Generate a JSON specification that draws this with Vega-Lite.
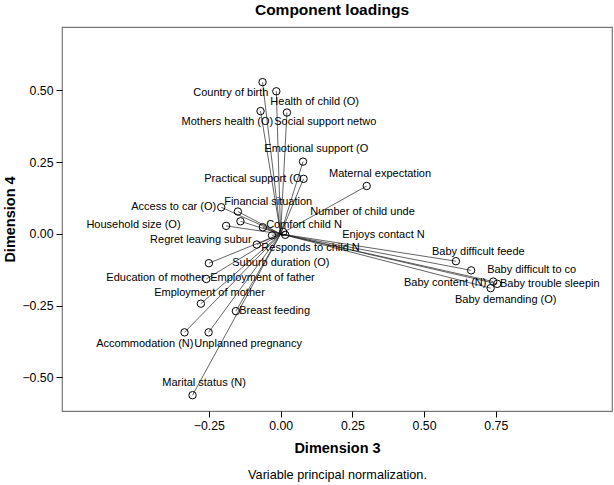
{
  "$schema": "https://vega.github.io/schema/vega-lite/v6.json",
  "width": 550,
  "height": 384,
  "autosize": "none",
  "padding": {"left": 62, "top": 27, "right": 2, "bottom": 74},
  "background": "white",
  "title": {"text": "Component loadings", "fontSize": 15.5, "font": "Liberation Sans", "fontWeight": "bold", "color": "#000", "offset": 9, "anchor": "middle", "dx": -5},
  "config": {
    "font": "Liberation Sans",
    "view": {"stroke": "#777", "strokeWidth": 1.2},
    "text": {"font": "Liberation Sans", "fontSize": 11, "align": "left", "baseline": "middle", "color": "#000"},
    "axis": {"labelFont": "Liberation Sans", "labelFontSize": 12.3, "labelColor": "#000", "tickColor": "#000", "tickSize": 6, "domain": false, "grid": false, "titleFont": "Liberation Sans", "titleFontSize": 14.5, "titleFontWeight": "bold", "titleColor": "#000"}
  },
  "data": {"values": [
    {"label": "Country of birth", "x": -0.063, "y": 0.529},
    {"label": "Health of child (O)", "x": -0.015, "y": 0.497},
    {"label": "Mothers health (O)", "x": -0.070, "y": 0.428},
    {"label": "Social support netwo", "x": 0.022, "y": 0.423},
    {"label": "Emotional support (O", "x": 0.078, "y": 0.252},
    {"label": "Practical support (O", "x": 0.080, "y": 0.192},
    {"label": "Maternal expectation", "x": 0.300, "y": 0.167},
    {"label": "Access to car (O)", "x": -0.207, "y": 0.093},
    {"label": "Financial situation", "x": -0.149, "y": 0.078},
    {"label": "Household size (O)", "x": -0.190, "y": 0.028},
    {"label": "Comfort child N", "x": -0.062, "y": 0.023},
    {"label": "Employment of father", "x": -0.140, "y": 0.044},
    {"label": "Regret leaving subur", "x": -0.083, "y": -0.037},
    {"label": "Responds to child N", "x": -0.030, "y": -0.005},
    {"label": "Number of child unde", "x": 0.009, "y": 0.007},
    {"label": "Enjoys contact N", "x": 0.016, "y": -0.003},
    {"label": "Suburb duration (O)", "x": -0.250, "y": -0.102},
    {"label": "Education of mother", "x": -0.259, "y": -0.157},
    {"label": "Employment of mother", "x": -0.278, "y": -0.243},
    {"label": "Breast feeding", "x": -0.156, "y": -0.269},
    {"label": "Accommodation (N)", "x": -0.335, "y": -0.343},
    {"label": "Unplanned pregnancy", "x": -0.251, "y": -0.343},
    {"label": "Marital status (N)", "x": -0.307, "y": -0.562},
    {"label": "Baby difficult feede", "x": 0.611, "y": -0.095},
    {"label": "Baby difficult to co", "x": 0.664, "y": -0.127},
    {"label": "Baby content (N)", "x": 0.741, "y": -0.166},
    {"label": "Baby trouble sleepin", "x": 0.755, "y": -0.174},
    {"label": "Baby demanding (O)", "x": 0.732, "y": -0.189}
  ]},
  "resolve": {"axis": {"x": "independent"}},
  "layer": [
    {
      "mark": {"type": "rule", "color": "#222", "strokeWidth": 0.7},
      "encoding": {
        "x": {"field": "x", "type": "quantitative", "scale": {"domain": [-0.762, 1.155], "nice": false, "zero": false},
              "axis": {"title": "Dimension 3", "orient": "bottom", "values": [-0.25, 0, 0.25, 0.5, 0.75], "format": ".2f", "labelPadding": 2, "titlePadding": 10}},
        "y": {"field": "y", "type": "quantitative", "scale": {"domain": [-0.617, 0.721], "nice": false, "zero": false},
              "axis": {"title": "Dimension 4", "values": [-0.5, -0.25, 0, 0.25, 0.5], "format": ".2f", "labelPadding": 3, "titlePadding": 4}},
        "x2": {"datum": 0},
        "y2": {"datum": 0}
      }
    },
    {
      "mark": {"type": "point", "shape": "circle", "filled": false, "color": "#000", "size": 55, "strokeWidth": 1, "opacity": 1},
      "encoding": {
        "x": {"field": "x", "type": "quantitative", "axis": null},
        "y": {"field": "y", "type": "quantitative"}
      }
    },
    {
      "encoding": {
        "x": {"field": "x", "type": "quantitative", "axis": null},
        "y": {"field": "y", "type": "quantitative"},
        "text": {"field": "label"}
      },
      "layer": [
        {"transform": [{"filter": {"field": "label", "equal": "Country of birth"}}], "mark": {"type": "text", "dx": -69.3, "dy": 10.7}},
        {"transform": [{"filter": {"field": "label", "equal": "Health of child (O)"}}], "mark": {"type": "text", "dx": -6, "dy": 10.5}},
        {"transform": [{"filter": {"field": "label", "equal": "Mothers health (O)"}}], "mark": {"type": "text", "dx": -79, "dy": 10.7}},
        {"transform": [{"filter": {"field": "label", "equal": "Social support netwo"}}], "mark": {"type": "text", "dx": -12.7, "dy": 9.3}},
        {"transform": [{"filter": {"field": "label", "equal": "Emotional support (O"}}], "mark": {"type": "text", "dx": -38.7, "dy": -12.7}},
        {"transform": [{"filter": {"field": "label", "equal": "Practical support (O"}}], "mark": {"type": "text", "dx": -99.3, "dy": 0}},
        {"transform": [{"filter": {"field": "label", "equal": "Maternal expectation"}}], "mark": {"type": "text", "dx": -37.7, "dy": -12}},
        {"transform": [{"filter": {"field": "label", "equal": "Access to car (O)"}}], "mark": {"type": "text", "dx": -90, "dy": 0}},
        {"transform": [{"filter": {"field": "label", "equal": "Financial situation"}}], "mark": {"type": "text", "dx": -13.7, "dy": -9.7}},
        {"transform": [{"filter": {"field": "label", "equal": "Household size (O)"}}], "mark": {"type": "text", "dx": -139.7, "dy": -1}},
        {"transform": [{"filter": {"field": "label", "equal": "Comfort child N"}}], "mark": {"type": "text", "dx": 3.3, "dy": -2.3}},
        {"transform": [{"filter": {"field": "label", "equal": "Employment of father"}}], "mark": {"type": "text", "dx": -30.3, "dy": 56.7}},
        {"transform": [{"filter": {"field": "label", "equal": "Regret leaving subur"}}], "mark": {"type": "text", "dx": -106.7, "dy": -4.5}},
        {"transform": [{"filter": {"field": "label", "equal": "Responds to child N"}}], "mark": {"type": "text", "dx": -10.7, "dy": 12.5}},
        {"transform": [{"filter": {"field": "label", "equal": "Number of child unde"}}], "mark": {"type": "text", "dx": 27, "dy": -20}},
        {"transform": [{"filter": {"field": "label", "equal": "Enjoys contact N"}}], "mark": {"type": "text", "dx": 57, "dy": 0}},
        {"transform": [{"filter": {"field": "label", "equal": "Suburb duration (O)"}}], "mark": {"type": "text", "dx": 23.3, "dy": 0}},
        {"transform": [{"filter": {"field": "label", "equal": "Education of mother"}}], "mark": {"type": "text", "dx": -100, "dy": -1}},
        {"transform": [{"filter": {"field": "label", "equal": "Employment of mother"}}], "mark": {"type": "text", "dx": -46.7, "dy": -10.8}},
        {"transform": [{"filter": {"field": "label", "equal": "Breast feeding"}}], "mark": {"type": "text", "dx": 3.3, "dy": 0}},
        {"transform": [{"filter": {"field": "label", "equal": "Accommodation (N)"}}], "mark": {"type": "text", "dx": -88.3, "dy": 11.7}},
        {"transform": [{"filter": {"field": "label", "equal": "Unplanned pregnancy"}}], "mark": {"type": "text", "dx": -14.3, "dy": 11.7}},
        {"transform": [{"filter": {"field": "label", "equal": "Marital status (N)"}}], "mark": {"type": "text", "dx": -30.3, "dy": -12.3}},
        {"transform": [{"filter": {"field": "label", "equal": "Baby difficult feede"}}], "mark": {"type": "text", "dx": -24, "dy": -9.3}},
        {"transform": [{"filter": {"field": "label", "equal": "Baby difficult to co"}}], "mark": {"type": "text", "dx": 16, "dy": 0}},
        {"transform": [{"filter": {"field": "label", "equal": "Baby content (N)"}}], "mark": {"type": "text", "dx": -89.3, "dy": 1.3}},
        {"transform": [{"filter": {"field": "label", "equal": "Baby trouble sleepin"}}], "mark": {"type": "text", "dx": 2.7, "dy": 0}},
        {"transform": [{"filter": {"field": "label", "equal": "Baby demanding (O)"}}], "mark": {"type": "text", "dx": -35.7, "dy": 11.7}}
      ]
    },
    {
      "mark": {"type": "point", "opacity": 0},
      "encoding": {
        "x": {"field": "x", "type": "quantitative",
              "axis": {"title": "Variable principal normalization.", "orient": "bottom", "labels": false, "ticks": false, "domain": false, "titleFontWeight": "normal", "titleFontSize": 12.7, "titlePadding": 57}},
        "y": {"field": "y", "type": "quantitative"}
      }
    }
  ]
}
